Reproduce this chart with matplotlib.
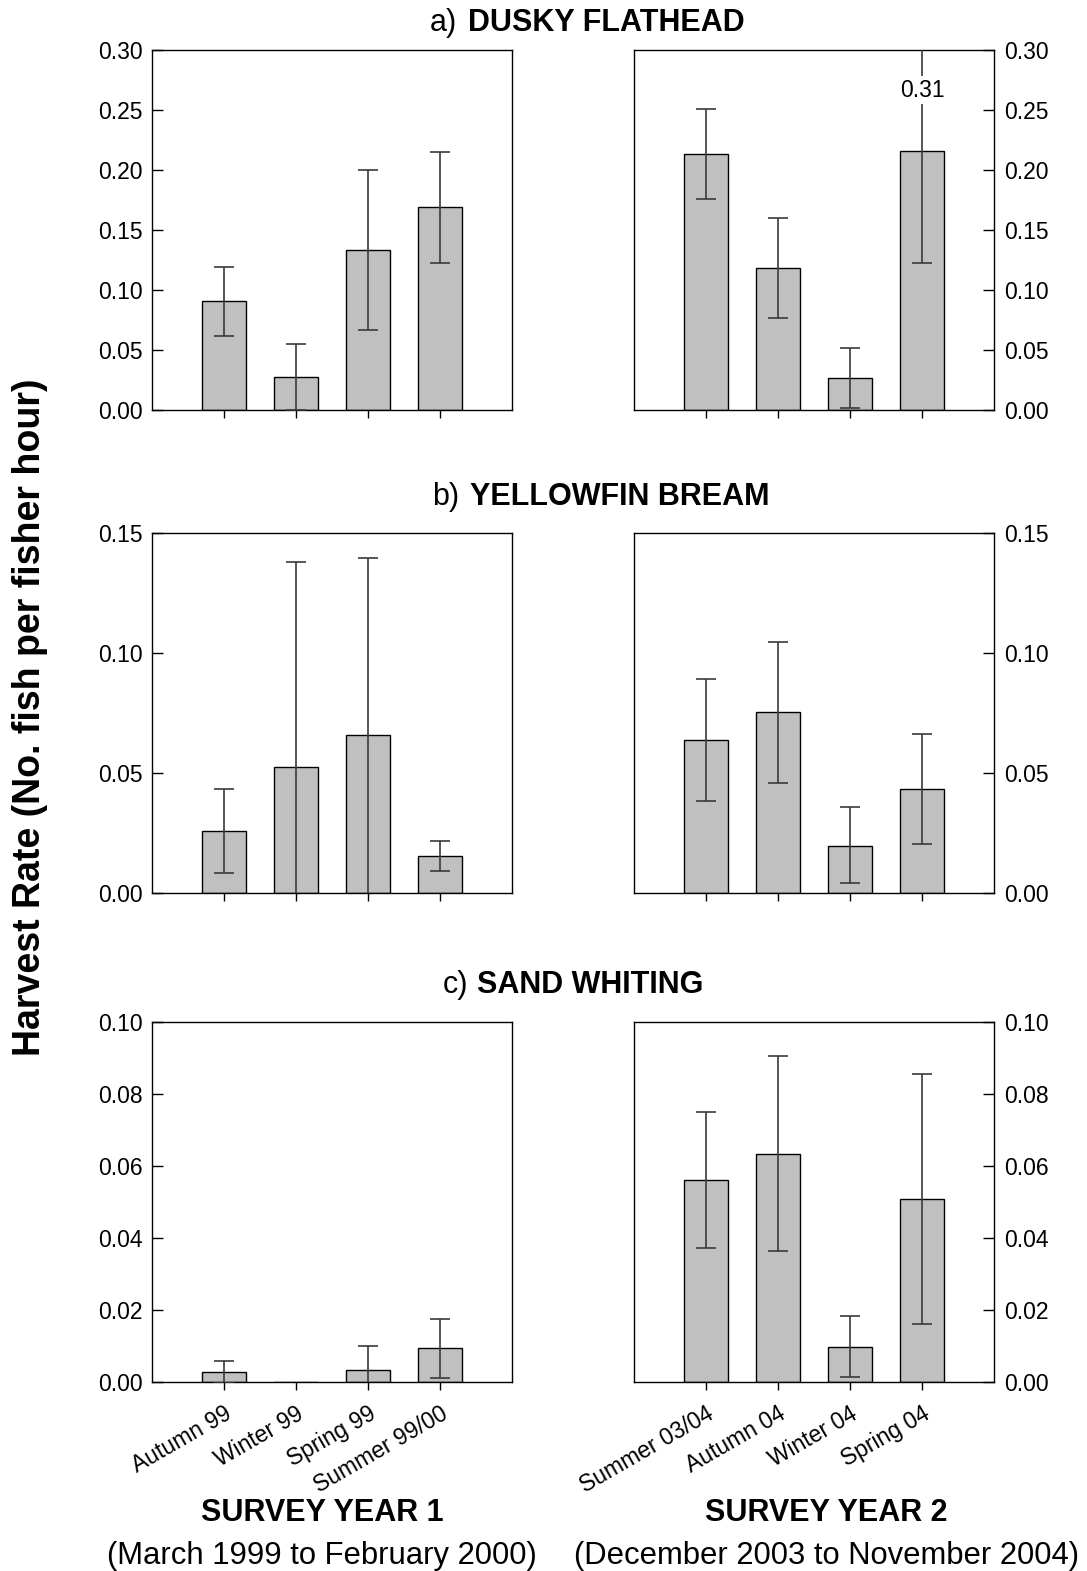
import matplotlib
matplotlib.use("Agg")
import matplotlib.pyplot as plt
import numpy as np

plt.rcParams['font.family'] = ['Liberation Sans', 'DejaVu Sans']

# saisons des deux enquetes
seasons_y1 = ["Autumn 99", "Winter 99", "Spring 99", "Summer 99/00"]
seasons_y2 = ["Summer 03/04", "Autumn 04", "Winter 04", "Spring 04"]

# a) dusky flathead : moyenne, borne basse, borne haute
flathead_y1 = [0.091, 0.0275, 0.133, 0.169]
flathead_y1_lo = [0.062, 0.0, 0.067, 0.1225]
flathead_y1_hi = [0.1195, 0.0553, 0.200, 0.215]
flathead_y2 = [0.213, 0.118, 0.0267, 0.216]
flathead_y2_lo = [0.1756, 0.0767, 0.0014, 0.1228]
flathead_y2_hi = [0.2506, 0.1598, 0.0517, 0.31]

# b) yellowfin bream
bream_y1 = [0.026, 0.0525, 0.0657, 0.0154]
bream_y1_lo = [0.0085, -0.033, -0.008, 0.0092]
bream_y1_hi = [0.0432, 0.1379, 0.1395, 0.0217]
bream_y2 = [0.0639, 0.0754, 0.0197, 0.0433]
bream_y2_lo = [0.0385, 0.0458, 0.004, 0.0203]
bream_y2_hi = [0.0892, 0.1047, 0.0357, 0.0664]

# c) sand whiting
whiting_y1 = [0.0028, 0.0, 0.0034, 0.0094]
whiting_y1_lo = [-0.0003, 0.0, -0.0033, 0.001]
whiting_y1_hi = [0.0059, 0.0, 0.0101, 0.0176]
whiting_y2 = [0.0561, 0.0634, 0.0098, 0.0508]
whiting_y2_lo = [0.0373, 0.0363, 0.0013, 0.0161]
whiting_y2_hi = [0.075, 0.0906, 0.0184, 0.0856]

titles = ["DUSKY FLATHEAD", "YELLOWFIN BREAM", "SAND WHITING"]
letters = ["a)", "b)", "c)"]
ymax = [0.30, 0.15, 0.10]
ystep = [0.05, 0.05, 0.02]

rows = [
    [(flathead_y1, flathead_y1_lo, flathead_y1_hi), (flathead_y2, flathead_y2_lo, flathead_y2_hi)],
    [(bream_y1, bream_y1_lo, bream_y1_hi), (bream_y2, bream_y2_lo, bream_y2_hi)],
    [(whiting_y1, whiting_y1_lo, whiting_y1_hi), (whiting_y2, whiting_y2_lo, whiting_y2_hi)],
]

W, H = 1087, 1571
fig = plt.figure(figsize=(W / 100, H / 100), dpi=100)

ax_left = [152, 634]
ax_top = [50, 533, 1022]
ax_w, ax_h = 360, 360

# position des titres (x de la lettre, x du nom, y)
title_x_letter = [430, 432, 443]
title_x_name = [468, 470, 477]
title_y = [23, 497, 985]

x = np.arange(1, 5)

for r in range(3):
    for c in range(2):
        l = ax_left[c] / W
        b = 1 - (ax_top[r] + ax_h) / H
        ax = fig.add_axes([l, b, ax_w / W, ax_h / H])
        vals, lo, hi = rows[r][c]
        vals = np.array(vals)
        err = [vals - np.array(lo), np.array(hi) - vals]
        ax.bar(x, vals, width=0.6, color="#c0c0c0", edgecolor="black", linewidth=1, zorder=2)
        nz = vals > 0
        ax.errorbar(x[nz], vals[nz], yerr=[err[0][nz], err[1][nz]], fmt="none",
                    ecolor="#3a3a3a", elinewidth=1.2, capsize=7, capthick=1.2, zorder=3)
        ax.set_xlim(0, 5)
        ax.set_ylim(0, ymax[r])
        ax.set_yticks(np.arange(0, ymax[r] + 1e-9, ystep[r]))
        ax.yaxis.set_major_formatter(matplotlib.ticker.FormatStrFormatter("%.2f"))
        ax.set_xticks(x)
        ax.tick_params(axis="y", direction="in", length=8, width=1, labelsize=16.5, pad=7)
        ax.tick_params(axis="x", direction="out", length=5.5, width=1, labelsize=16.5, pad=9)
        if c == 1:
            ax.yaxis.tick_right()
        for s in ax.spines.values():
            s.set_linewidth(1)
        if r == 2:
            labels = seasons_y1 if c == 0 else seasons_y2
            ax.set_xticklabels(labels, rotation=30, ha="right", rotation_mode="anchor", fontsize=16.5)
        else:
            ax.set_xticklabels([])
        # valeur hors echelle
        if r == 0 and c == 1:
            ax.text(4, 0.2665, "0.31", ha="center", va="center", fontsize=16.5,
                    bbox=dict(facecolor="white", edgecolor="none", pad=2), zorder=4)

    fig.text(title_x_letter[r] / W, 1 - title_y[r] / H, letters[r], ha="left", va="center", fontsize=22)
    fig.text(title_x_name[r] / W, 1 - title_y[r] / H, titles[r], ha="left", va="center",
             fontsize=22, fontweight="bold")

# textes sous les graphiques
fig.text(322 / W, 1 - 1513 / H, "SURVEY YEAR 1", ha="center", va="center", fontsize=22, fontweight="bold")
fig.text(322 / W, 1 - 1556 / H, "(March 1999 to February 2000)", ha="center", va="center", fontsize=22.3)
fig.text(826 / W, 1 - 1513 / H, "SURVEY YEAR 2", ha="center", va="center", fontsize=22, fontweight="bold")
fig.text(826 / W, 1 - 1556 / H, "(December 2003 to November 2004)", ha="center", va="center", fontsize=22.3)

fig.text(30 / W, 1 - 717 / H, "Harvest Rate (No. fish per fisher hour)", rotation=90,
         ha="center", va="center", fontsize=27, fontweight="bold")

fig.savefig("out.png", dpi=100)
